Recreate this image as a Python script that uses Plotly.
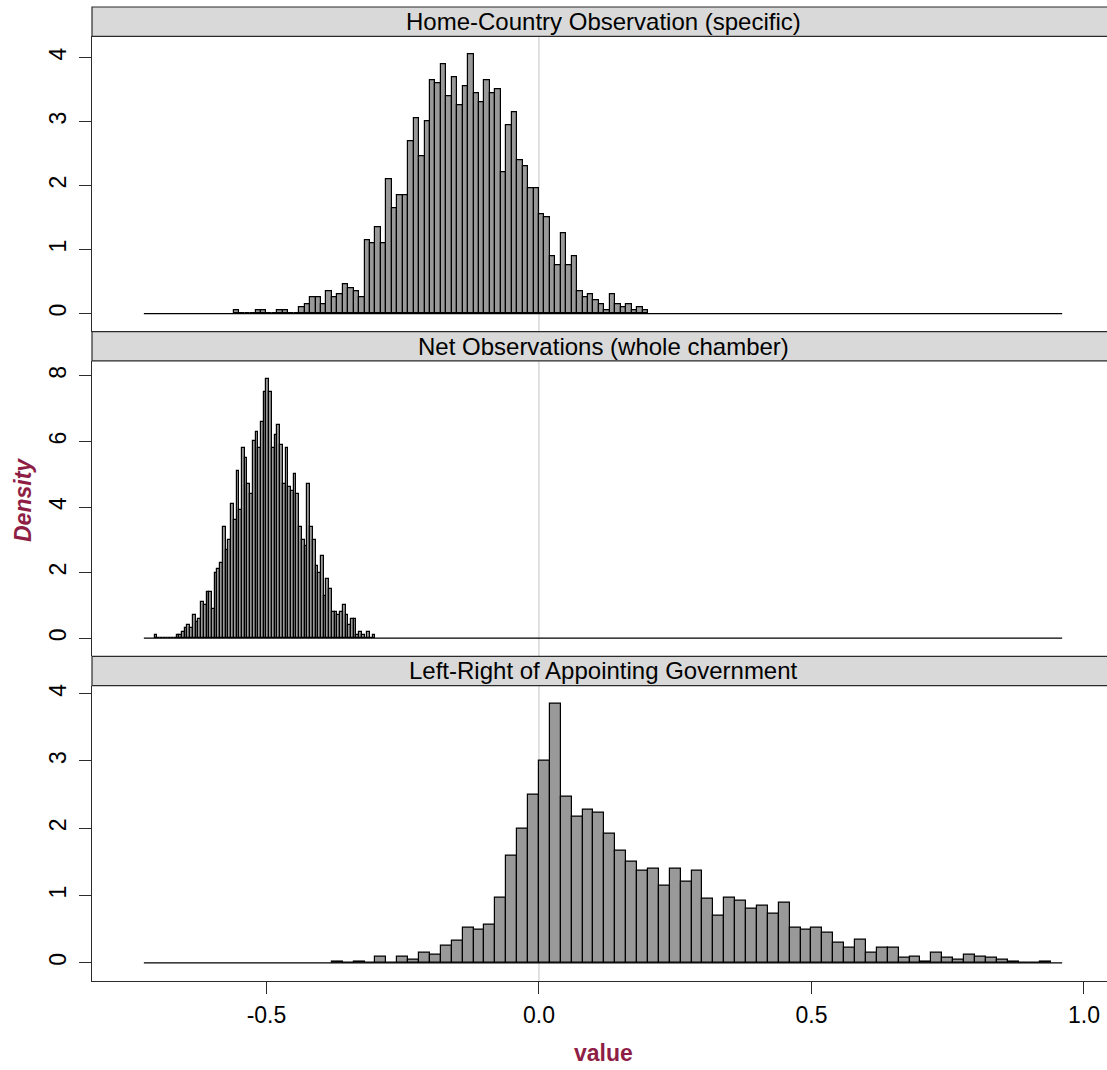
import plotly.graph_objects as go

# ---- data -------------------------------------------------------------
panel_titles = [
    "Home-Country Observation (specific)",
    "Net Observations (whole chamber)",
    "Left-Right of Appointing Government",
]

# Home-country observation: density per bin (width 0.01, first break -0.56)
home_start = -0.56
home_width = 0.01
home_density = [
    0.05, 0.00, 0.00, 0.00, 0.05, 0.05, 0.00, 0.00, 0.05, 0.05,
    0.00, 0.00, 0.10, 0.15, 0.25, 0.25, 0.15, 0.35, 0.25, 0.30,
    0.45, 0.40, 0.35, 0.25, 1.15, 1.10, 1.35, 1.10, 2.10, 1.65,
    1.85, 1.85, 2.70, 3.05, 2.45, 3.00, 3.65, 3.60, 3.90, 3.40,
    3.70, 3.25, 3.55, 4.05, 3.45, 3.30, 3.65, 3.45, 3.50, 2.20,
    2.95, 3.15, 2.40, 2.30, 1.95, 1.95, 1.55, 1.50, 0.90, 0.75,
    1.25, 0.75, 0.90, 0.35, 0.25, 0.30, 0.20, 0.15, 0.05, 0.30,
    0.15, 0.10, 0.15, 0.05, 0.10, 0.05,
]

# Net observations: density per bin (width 0.005, first break -0.705)
net_start = -0.705
net_width = 0.005
net_density = [
    0.1, 0.0, 0.0, 0.0, 0.0, 0.0, 0.0, 0.0, 0.1, 0.1,
    0.2, 0.3, 0.4, 0.3, 0.7, 0.5, 0.6, 1.1, 1.0, 1.4,
    1.4, 0.9, 2.0, 2.1, 2.3, 3.4, 2.7, 3.0, 4.1, 3.6,
    5.1, 3.9, 5.8, 5.5, 4.7, 4.4, 6.0, 6.3, 5.8, 6.6,
    7.5, 7.9, 7.5, 5.8, 6.2, 6.5, 5.9, 4.7, 5.8, 4.6,
    4.5, 5.0, 4.4, 3.4, 3.0, 2.8, 4.7, 3.4, 3.0, 2.2,
    2.0, 2.5, 1.3, 1.8, 1.5, 0.8, 0.8, 0.7, 0.8, 1.0,
    0.7, 0.4, 0.6, 0.6, 0.1, 0.2, 0.1, 0.0, 0.2, 0.0,
    0.1,
]

# Left-right of appointing government: density per bin (width 0.02, first break -0.38)
lr_start = -0.38
lr_width = 0.02
lr_density = [
    0.025, 0.000, 0.025, 0.000, 0.100, 0.000, 0.100, 0.050, 0.150, 0.125,
    0.250, 0.325, 0.525, 0.500, 0.575, 0.975, 1.600, 2.000, 2.500, 3.000,
    3.850, 2.475, 2.175, 2.275, 2.225, 1.925, 1.675, 1.500, 1.375, 1.400,
    1.150, 1.400, 1.200, 1.375, 0.950, 0.700, 0.975, 0.925, 0.800, 0.850,
    0.725, 0.900, 0.525, 0.500, 0.525, 0.450, 0.300, 0.225, 0.350, 0.150,
    0.225, 0.225, 0.075, 0.100, 0.025, 0.150, 0.075, 0.050, 0.125, 0.100,
    0.075, 0.050, 0.025, 0.000, 0.000, 0.025,
]

# full span of the histogram breaks (zero-height bins drawn as a line)
break_span = [-0.725, 0.96]
# overall range of the sampled values
value_range = [-0.705, 0.94]

x_tick_vals = [-0.5, 0.0, 0.5, 1.0]
x_tick_text = ["-0.5", "0.0", "0.5", "1.0"]
y_tick_vals = [[0, 1, 2, 3, 4], [0, 2, 4, 6, 8], [0, 1, 2, 3, 4]]

panels = [
    (home_start, home_width, home_density),
    (net_start, net_width, net_density),
    (lr_start, lr_width, lr_density),
]

# ---- layout geometry ---------------------------------------------------
W, H = 1107, 1070
ML, MR, MT, MB = 92, 0, 7, 89
plot_top, plot_bottom = MT, H - MB
plot_h = plot_bottom - plot_top
block = plot_h / 3
strip_h = 29.3
FONT = "Liberation Sans, Arial, Helvetica, sans-serif"
LABEL_COLOR = "#8E1E45"
FRAME = "#2b2b2b"
TICK_SIZE = 23


def py(p):
    """pixel row -> paper y"""
    return (plot_bottom - p) / plot_h


# lattice-style x limits: data range padded by 7%
span = value_range[1] - value_range[0]
xlim = [value_range[0] - 0.07 * span, value_range[1] + 0.07 * span]
# visible window: the right part of the frame runs off the page edge
x_visible = [xlim[0], xlim[0] + (xlim[1] - xlim[0]) * (W - ML) / (W - ML + 7)]
x_center = (xlim[0] + xlim[1]) / 2

fig = go.Figure()
shapes = []
annotations = []

for k, (start, width, dens) in enumerate(panels):
    xa = "x" if k == 0 else f"x{k + 1}"
    ya = "y" if k == 0 else f"y{k + 1}"
    centers = [start + width * (i + 0.5) for i in range(len(dens))]

    # zero-height bins across the full break span
    fig.add_trace(go.Scatter(
        x=break_span, y=[0, 0], mode="lines",
        line=dict(color="black", width=1.2),
        xaxis=xa, yaxis=ya, showlegend=False, hoverinfo="skip",
    ))
    fig.add_trace(go.Bar(
        x=centers, y=dens, width=width,
        marker=dict(color="#999999", line=dict(color="black", width=1.2)),
        xaxis=xa, yaxis=ya, showlegend=False,
    ))

    top = plot_top + k * block
    dom = [py(top + block), py(top + strip_h)]
    ymax = max(dens)
    yr = [-0.07 * ymax, 1.07 * ymax]

    ax_common = dict(
        domain=[0, 1], range=x_visible, showgrid=False, zeroline=False,
        fixedrange=True,
    )
    if k == 2:
        ax_common.update(
            tickvals=x_tick_vals, ticktext=x_tick_text, ticks="outside",
            ticklen=12, tickwidth=1, tickcolor=FRAME, showline=True,
            linecolor=FRAME, linewidth=1, ticklabelstandoff=1,
            tickfont=dict(family=FONT, size=TICK_SIZE, color="black"),
            anchor=ya,
        )
    else:
        ax_common.update(showticklabels=False, ticks="", showline=False,
                         anchor=ya, matches="x3")
    fig.layout[("xaxis" if k == 0 else f"xaxis{k + 1}")] = ax_common

    fig.layout[("yaxis" if k == 0 else f"yaxis{k + 1}")] = dict(
        domain=dom, range=yr, tickvals=y_tick_vals[k],
        ticktext=[str(v) for v in y_tick_vals[k]],
        tickangle=-90, ticks="outside", ticklen=12, tickwidth=1,
        tickcolor=FRAME, showline=True, linecolor=FRAME, linewidth=1,
        showgrid=False, zeroline=False, anchor=xa, fixedrange=True,
        ticklabelstandoff=4,
        tickfont=dict(family=FONT, size=TICK_SIZE, color="black"),
    )

    # reference line at zero
    shapes.append(dict(
        type="line", xref=xa, yref=f"{ya} domain", x0=0, x1=0, y0=0, y1=1,
        line=dict(color="#c4c4c4", width=1), layer="below",
    ))
    # strip
    shapes.append(dict(
        type="rect", xref="paper", yref="paper", x0=0, x1=1.02,
        y0=py(top + strip_h), y1=py(top),
        fillcolor="#d9d9d9", line=dict(color=FRAME, width=1.2), layer="above",
    ))
    annotations.append(dict(
        text=panel_titles[k], xref="x3", yref="paper", x=x_center,
        y=py(top + strip_h / 2), showarrow=False, xanchor="center",
        yanchor="middle", font=dict(family=FONT, size=24, color="black"),
    ))

annotations.append(dict(
    text="<b>value</b>", xref="x3", yref="paper", x=x_center,
    y=py(1053), showarrow=False, xanchor="center", yanchor="middle",
    font=dict(family=FONT, size=23, color=LABEL_COLOR),
))
annotations.append(dict(
    text="<b><i>Density</i></b>", xref="paper", yref="paper",
    x=(23 - ML) / (W - ML - MR), y=py(500), showarrow=False,
    xanchor="center", yanchor="middle", textangle=-90,
    font=dict(family=FONT, size=23, color=LABEL_COLOR),
))

fig.update_layout(
    width=W, height=H,
    margin=dict(l=ML, r=MR, t=MT, b=MB, pad=0),
    paper_bgcolor="white", plot_bgcolor="white",
    bargap=0, barmode="overlay",
    shapes=shapes, annotations=annotations,
    font=dict(family=FONT),
)

fig.write_html("out.html", config={"displayModeBar": False})
